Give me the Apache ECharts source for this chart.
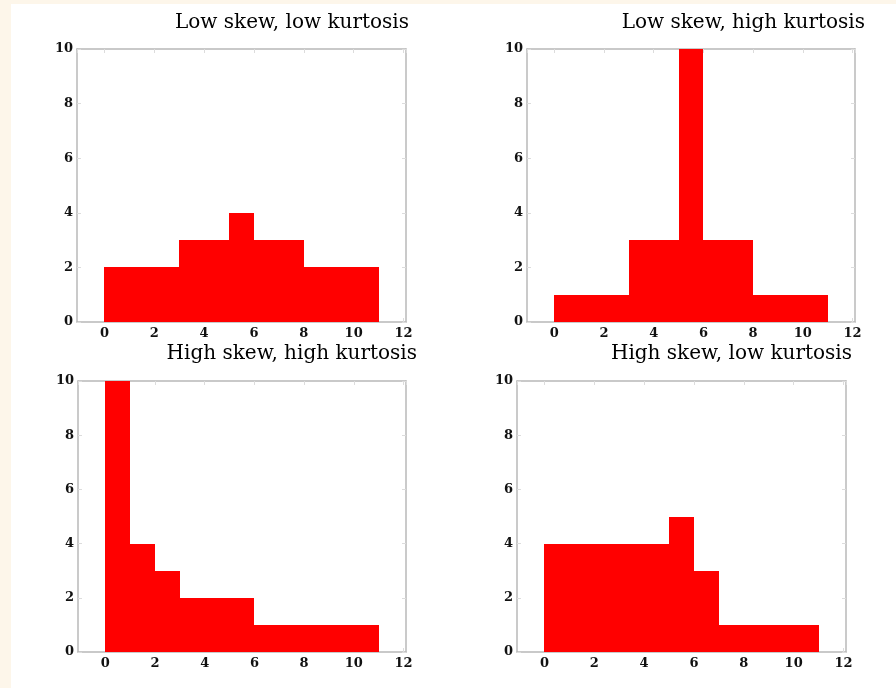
<!DOCTYPE html>
<html>
<head>
<meta charset="utf-8">
<script src="https://cdn.jsdelivr.net/npm/echarts@6/dist/echarts.min.js"></script>
<style>
	body { margin: 0; background: #fdf6ea; }
	#chart { position: absolute; left: 11px; top: 4px; width: 885px; height: 684px; background: #fff; }
</style>
</head>
<body>
<div id="chart"></div>
<script>
// bin edges shared by all four histograms (width 1, from 0 to 11)
const binEdges = [0, 1, 2, 3, 4, 5, 6, 7, 8, 9, 10, 11];
const lowSkewLowKurt = [2, 2, 2, 3, 3, 4, 3, 3, 2, 2, 2];
const lowSkewHighKurt = [1, 1, 1, 3, 3, 10, 3, 3, 1, 1, 1];
const highSkewHighKurt = [10, 4, 3, 2, 2, 2, 1, 1, 1, 1, 1];
const highSkewLowKurt = [4, 4, 4, 4, 4, 5, 3, 1, 1, 1, 1];
const panelTitles = ['Low skew, low kurtosis', 'Low skew, high kurtosis', 'High skew, high kurtosis', 'High skew, low kurtosis'];
const panelCounts = [lowSkewLowKurt, lowSkewHighKurt, highSkewHighKurt, highSkewLowKurt];

const grids = [
	{ left: 66, top: 45, width: 329, height: 273 },
	{ left: 516, top: 45, width: 328, height: 273 },
	{ left: 67, top: 377, width: 328, height: 271 },
	{ left: 506, top: 377, width: 329, height: 271 }
];
const titlePos = [
	{ right: 487, top: 9 },
	{ right: 31, top: 9 },
	{ right: 479, top: 340 },
	{ right: 44, top: 340 }
];

const frameColor = '#b8b8b8';
const tickColor = '#dcdcdc';
const labelStyle = { fontFamily: 'DejaVu Serif', fontWeight: 'bold', fontSize: 13, color: '#111' };

let chart = echarts.init(document.getElementById('chart'));

let xAxes = [], yAxes = [], series = [], titles = [];
grids.forEach((g, i) => {
	titles.push({
		text: panelTitles[i],
		right: titlePos[i].right,
		top: titlePos[i].top,
		padding: 0,
		textStyle: { fontFamily: 'DejaVu Serif', fontWeight: 'normal', fontSize: 20, color: '#000' }
	});
	const xBase = {
		type: 'value', gridIndex: i, min: -1.1, max: 12.1, splitNumber: 6,
		splitLine: { show: false },
		axisLine: { show: true, onZero: false, lineStyle: { color: frameColor, width: 1.5 } },
		axisTick: { show: true, inside: true, length: 4, lineStyle: { color: tickColor } }
	};
	xAxes.push(Object.assign({}, xBase, {
		position: 'bottom',
		axisLabel: Object.assign({ margin: 5, showMinLabel: false, showMaxLabel: false }, labelStyle)
	}));
	xAxes.push(Object.assign({}, xBase, { position: 'top', axisLabel: { show: false } }));
	const yBase = {
		type: 'value', gridIndex: i, min: 0, max: 10, interval: 2,
		splitLine: { show: false },
		axisLine: { show: true, onZero: false, lineStyle: { color: frameColor, width: 1.5 } },
		axisTick: { show: true, inside: true, length: 4, lineStyle: { color: tickColor } }
	};
	yAxes.push(Object.assign({}, yBase, {
		position: 'left',
		axisLabel: Object.assign({ margin: 4 }, labelStyle)
	}));
	yAxes.push(Object.assign({}, yBase, { position: 'right', axisLabel: { show: false } }));

	const data = panelCounts[i].map((c, k) => [binEdges[k], binEdges[k + 1], c]);
	series.push({
		type: 'custom',
		xAxisIndex: i * 2,
		yAxisIndex: i * 2,
		data,
		encode: { x: [0, 1], y: 2 },
		renderItem(params, api) {
			// snap to whole pixels so neighbouring bins join without seams
			let p0 = api.coord([api.value(0), api.value(2)]).map(Math.round),
				p1 = api.coord([api.value(1), 0]).map(Math.round);
			return {
				type: 'rect',
				shape: { x: p0[0], y: p0[1], width: p1[0] - p0[0], height: p1[1] - p0[1] },
				style: { fill: '#ff0000' }
			};
		}
	});
});

chart.setOption({
	animation: false,
	title: titles,
	grid: grids,
	xAxis: xAxes,
	yAxis: yAxes,
	series
});
</script>
</body>
</html>
